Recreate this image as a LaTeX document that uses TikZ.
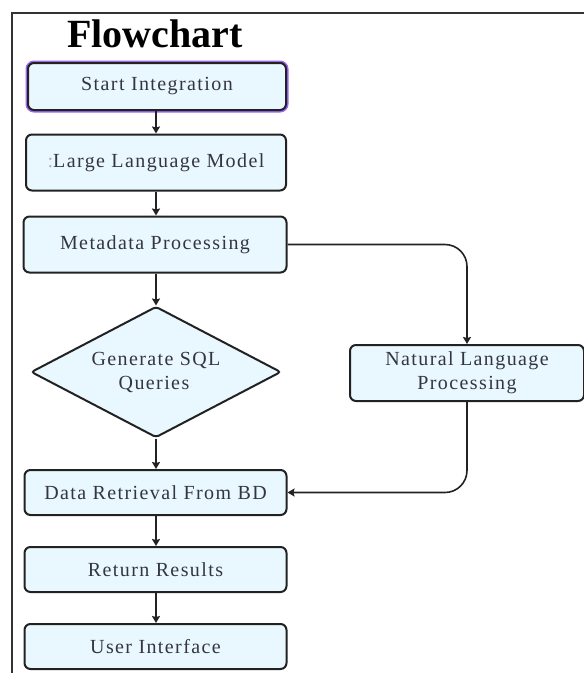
\documentclass[tikz,border=0pt]{standalone}
\usepackage{fontspec}
\setmainfont{Liberation Serif}
\newfontfamily\boxfont[LetterSpace=7]{Liberation Serif}
\usetikzlibrary{shapes.geometric,arrows.meta}
\definecolor{boxfill}{HTML}{E8F8FE}
\definecolor{txt}{HTML}{35353F}
\definecolor{edge}{HTML}{222222}
\definecolor{purp}{HTML}{9A66F2}
\definecolor{frame}{HTML}{333333}
\begin{document}
\begin{tikzpicture}[x=1pt,y=-1pt,
  proc/.style={draw=edge, line width=2pt, fill=boxfill, rounded corners=6pt,
    minimum width=262pt, minimum height=45pt, text=txt, inner sep=0pt,
    font=\boxfont\fontsize{20}{24}\selectfont, align=center},
  decision/.style={proc, shape=diamond, shape aspect=1.9, rounded corners=3pt},
  arr/.style={draw=edge, line width=1.6pt, -{Stealth[length=7pt,width=8pt,inset=1pt]}}]
\useasboundingbox (0,0) rectangle (584,673);
\fill[white] (0,0) rectangle (584,673);
% outer frame
\draw[frame, line width=2pt] (12,673) -- (12,13) -- (584,13);
% title
\node[anchor=base, font=\bfseries\fontsize{40}{44}\selectfont, text=black] (title) at (155,47) {Flowchart};
% nodes
\node[proc, minimum width=258pt, minimum height=47pt,
  preaction={draw=purp, line width=5pt, rounded corners=5pt}] (start) at (157,86.5) {Start Integration};
\node[proc, minimum width=260pt, minimum height=56pt] (llm) at (156,162.5) {{\color{gray!60}:}Large Language Model};
\node[proc, minimum width=263pt, minimum height=56pt] (meta) at (155,244.5) {Metadata Processing};
\node[decision, minimum width=250pt, minimum height=131pt] (sql) at (156,372) {Generate SQL\\Queries{\color{gray!40}\fontsize{8}{8}\selectfont\,·}};
\node[proc, minimum width=234pt, minimum height=56pt] (nlp) at (467,373) {Natural Language\\Processing};
\node[proc] (data) at (155.5,492.5) {Data Retrieval From BD};
\node[proc] (ret) at (155.5,569.5) {Return Results};
\node[proc] (ui) at (155.5,646.5) {User Interface};
% connectors
\draw[arr] (start.south -| 156,0) -- (llm.north -| 156,0);
\draw[arr] (llm.south -| 156,0) -- (meta.north -| 156,0);
\draw[arr] (meta.south -| 156,0) -- (sql.north);
\draw[arr] (sql.south) -- (data.north -| sql.south);
\draw[arr] (data.south -| 156,0) -- (ret.north -| 156,0);
\draw[arr] (ret.south -| 156,0) -- (ui.north -| 156,0);
\draw[arr, rounded corners=22pt] (meta.east) -| (nlp.north);
\draw[arr, rounded corners=22pt] (nlp.south) |- (data.east);
\end{tikzpicture}
\end{document}
